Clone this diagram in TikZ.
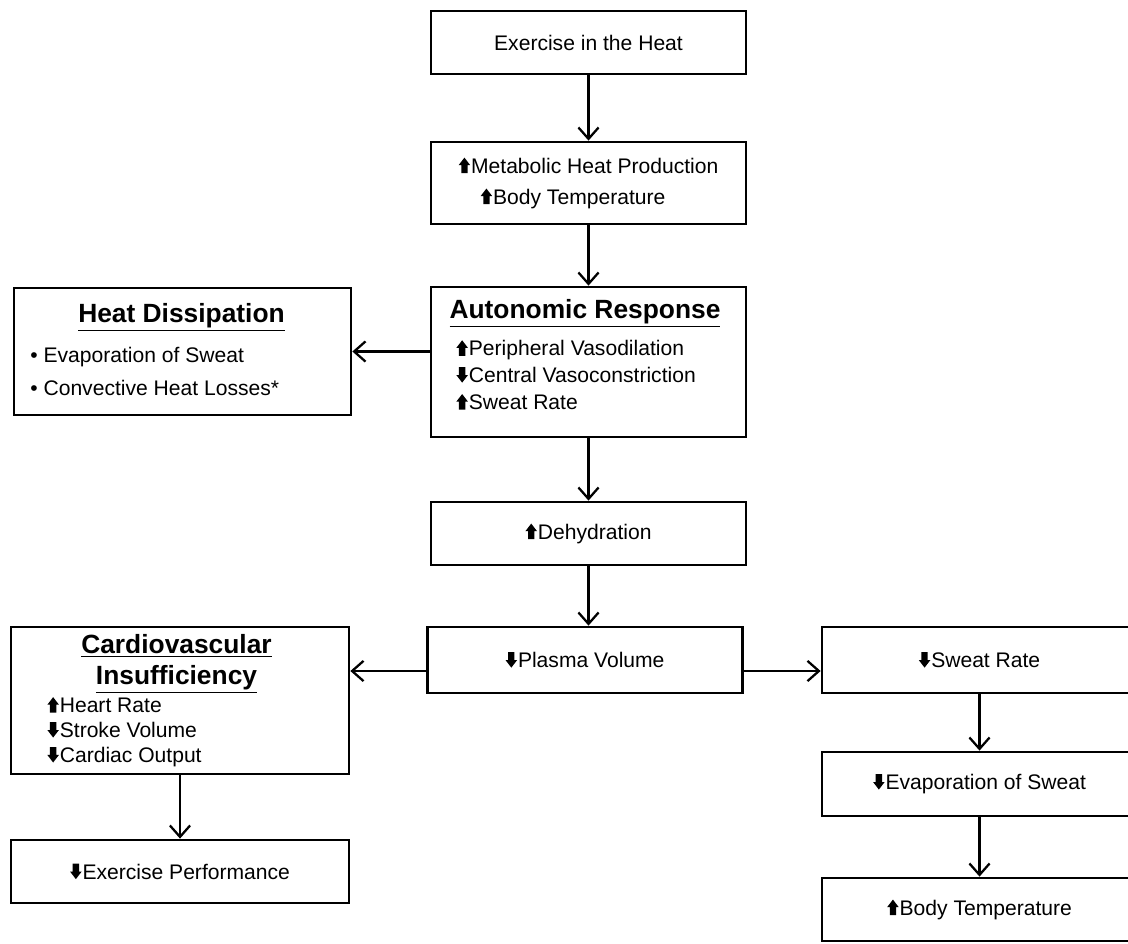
\documentclass[tikz,border=0pt]{standalone}
\usepackage{fontspec}
\setmainfont{Liberation Sans}
\usetikzlibrary{arrows.meta,positioning}

% heavy up / down arrows in front of the texts
\newcommand{\incr}{\tikz[x=1pt,y=1pt,baseline=0pt]\fill (1.5,0) -- (1.5,4.5) -- (0,4.5) -- (3.3,8.8) -- (6.6,4.5) -- (5.1,4.5) -- (5.1,0) -- cycle;\kern0.5pt}
\newcommand{\decr}{\tikz[x=1pt,y=1pt,baseline=0pt]\fill (1.5,8.8) -- (1.5,4.3) -- (0,4.3) -- (3.3,0) -- (6.6,4.3) -- (5.1,4.3) -- (5.1,8.8) -- cycle;\kern0.5pt}

\tikzset{
  box/.style={draw, line width=1.6pt, minimum width=6.3cm, minimum height=1.26cm, inner sep=0pt, font=\fontsize{12}{15}\selectfont},
  head/.style={font=\fontsize{15}{18}\selectfont\bfseries, align=center, inner sep=0pt},
  items/.style={font=\fontsize{12}{15.3}\selectfont, align=left, inner sep=0pt, anchor=west},
  flow/.style={-{Straight Barb[length=6.5pt,width=11.5pt,line width=1.3pt]}, line width=1.3pt}
}

\begin{document}
\begin{tikzpicture}[x=0.02cm, y=-0.02cm]
\useasboundingbox (0,0) rectangle (1128,943);

% main column
\node[box] (exercise) at (588.5,42.5) {Exercise in the Heat};
\node[box, minimum height=1.64cm, align=left, font=\fontsize{12}{17.6}\selectfont] (metabolic) at (588.5,183)
  {\incr Metabolic Heat Production\\\hspace*{0.44cm}\incr Body Temperature};
\node[box, minimum height=3cm] (autonomic) at (588.5,362) {};
\node[head] (autohead) at (585,313) {\underline{Autonomic Response}};
\node[items] (autoitems) at (456,375)
  {\incr Peripheral Vasodilation\\\decr Central Vasoconstriction\\\incr Sweat Rate};
\node[box] (dehydration) at (588.5,533.5) {\incr Dehydration};
\node[box, minimum height=1.32cm] (plasma) at (585,660) {\decr Plasma Volume};

% left side
\node[box, minimum width=6.74cm, minimum height=2.54cm] (dissipation) at (182.5,351.5) {};
\node[head] (disshead) at (181.5,317) {\underline{Heat Dissipation}};
\node[items, font=\fontsize{12}{18.7}\selectfont] (dissitems) at (30,371.5)
  {• Evaporation of Sweat\\• Convective Heat Losses*};
\node[box, minimum width=6.76cm, minimum height=2.94cm] (cardio) at (180,700.5) {};
\node[head] (cardiohead) at (176.5,664) {\underline{Cardiovascular}\\\underline{Insufficiency}};
\node[items, font=\fontsize{12}{14.2}\selectfont] (cardioitems) at (47,732)
  {\incr Heart Rate\\\decr Stroke Volume\\\decr Cardiac Output};
\node[box, minimum width=6.76cm] (performance) at (180,871.5) {\decr Exercise Performance};

% right side
\node[box, minimum height=1.32cm] (sweat) at (979.5,660) {\decr Sweat Rate};
\node[box, minimum height=1.28cm] (evaporation) at (979.5,784) {\decr Evaporation of Sweat};
\node[box] (bodytemp) at (979.5,909.5) {\incr Body Temperature};

% connectors
\draw[flow] (exercise) -- (metabolic);
\draw[flow] (metabolic) -- (autonomic);
\draw[flow] (autonomic.west |- dissipation.east) -- (dissipation.east);
\draw[flow] (autonomic) -- (dehydration);
\draw[flow] (dehydration.south) -- (dehydration.south |- plasma.north);
\draw[flow] ([yshift=-0.22cm]plasma.west) -- ([yshift=-0.22cm]plasma.west -| cardio.east);
\draw[flow] ([yshift=-0.22cm]plasma.east) -- ([yshift=-0.22cm]plasma.east -| sweat.west);
\draw[flow] (cardio) -- (performance);
\draw[flow] (sweat) -- (evaporation);
\draw[flow] (evaporation) -- (bodytemp);
\end{tikzpicture}
\end{document}
